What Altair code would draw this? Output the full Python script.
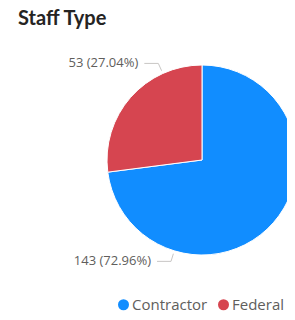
import altair as alt
import pandas as pd

# ---- data ----
staff_types = ["Contractor", "Federal"]
counts = [143, 53]
order = [0, 1]

colors = ["#118DFF", "#D64550"]

df = pd.DataFrame({"staff": staff_types, "count": counts, "ord": order})

# layout parameters (view pixel coords; view origin is page (8, 8+TOP))
TOP = 30
CX, CY, R = 194, 122, 95
R_EDGE, R_ELBOW = 98, 106
HLEN = 14

base = alt.Chart(df)

arc = base.mark_arc(outerRadius=R, stroke="white", strokeWidth=1).encode(
    theta=alt.Theta("count:Q", stack=True),
    color=alt.Color(
        "staff:N",
        scale=alt.Scale(domain=staff_types, range=colors),
        legend=alt.Legend(
            title=None,
            orient="none",
            direction="horizontal",
            legendX=108,
            legendY=259,
            symbolType="circle",
            symbolSize=121,
            symbolStrokeWidth=0,
            labelFont="Open Sans",
            labelFontSize=15,
            labelColor="#605E5C",
            labelOffset=1,
            columnPadding=8,
        ),
    ),
    order=alt.Order("ord:Q"),
    x=alt.value(CX),
    y=alt.value(CY),
)

lab = (
    base.transform_joinaggregate(total="sum(count)")
    .transform_window(cum="sum(count)", sort=[alt.SortField("ord")], frame=[None, 0])
    .transform_calculate(
        a="2*PI*((datum.cum - datum.count) + 0.75*datum.count)/datum.total",
        label="datum.count + ' (' + format(datum.count/datum.total, '.2%') + ')'",
    )
    .transform_calculate(
        ex=f"{CX} + {R_EDGE}*sin(datum.a)",
        ey=f"{CY} - {R_EDGE}*cos(datum.a)",
        bx=f"{CX} + {R_ELBOW}*sin(datum.a)",
        by=f"{CY} - {R_ELBOW}*cos(datum.a)",
    )
    .transform_calculate(hx=f"datum.bx - {HLEN}", tx=f"datum.bx - {HLEN} - 6")
)

diag = lab.mark_rule(color="#C8C6C4", strokeWidth=1).encode(
    x=alt.X("ex:Q", scale=None),
    y=alt.Y("ey:Q", scale=None),
    x2="bx:Q",
    y2="by:Q",
)
horiz = lab.mark_rule(color="#C8C6C4", strokeWidth=1).encode(
    x=alt.X("hx:Q", scale=None),
    y=alt.Y("by:Q", scale=None),
    x2="bx:Q",
    y2="by:Q",
)
txt = lab.mark_text(
    align="right", baseline="middle", font="Open Sans", fontSize=13, color="#605E5C"
).encode(
    x=alt.X("tx:Q", scale=None),
    y=alt.Y("by:Q", scale=None),
    text="label:N",
)

chart = (
    alt.layer(arc, diag, horiz, txt)
    .properties(
        width=279,
        height=306 - TOP,
        padding={"left": 0, "top": TOP, "right": 0, "bottom": 0},
        autosize=alt.AutoSizeParams(type="none"),
        background="white",
        title=alt.TitleParams(
            "Staff Type",
            anchor="start",
            dx=10,
            dy=7,
            offset=0,
            baseline="alphabetic",
            font="Lato",
            fontSize=20,
            fontWeight="bold",
            color="#252423",
        ),
    )
    .configure_view(strokeWidth=0, stroke="transparent")
)

chart.save("out.html", embed_options={"renderer": "svg", "actions": False})
